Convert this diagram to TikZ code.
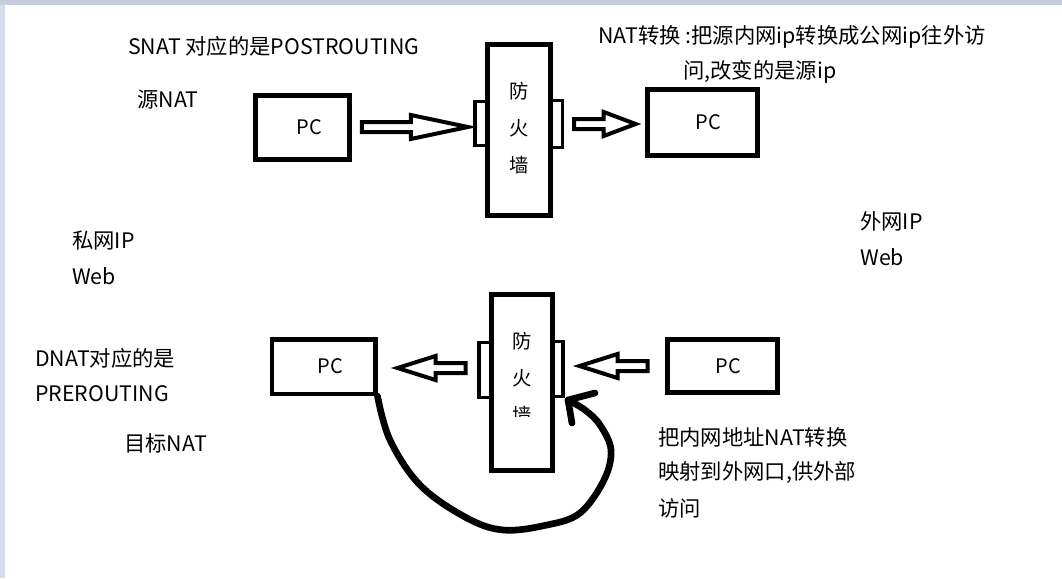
\documentclass[tikz,border=0pt]{standalone}
\usepackage{fontspec}
\setmainfont{Noto Sans CJK SC}
\usetikzlibrary{calc}

\definecolor{edgetop}{RGB}{197,206,223}
\definecolor{edgeleft}{RGB}{214,222,236}

% hollow block arrow: start, tip, head length (negative = pointing left)
\newcommand{\fatarrow}[3]{%
  \path (#1 |- #2) coordinate (fbase);
  \draw[fatarrow] ($(fbase)+(0,-5)$) -- ($(#2)+({-(#3)},-5)$) -- ($(#2)+({-(#3)},-12)$)
    -- (#2) -- ($(#2)+({-(#3)},12)$) -- ($(#2)+({-(#3)},5)$) -- ($(fbase)+(0,5)$) -- cycle;}

\begin{document}
\begin{tikzpicture}
  [x=0.75pt, y=-0.75pt,
   pcbox/.style={draw, line width=3.5pt, inner sep=0pt, font=\fontsize{15}{17}\selectfont},
   wall/.style={draw, line width=3.5pt, inner sep=0pt},
   tab/.style={line width=2.6pt, line join=miter},
   glyphs/.style={align=center, inner sep=0pt, font=\fontsize{14.5}{27.75}\selectfont},
   note/.style={anchor=west, inner sep=0pt, font=\fontsize{16}{18}\selectfont},
   fatarrow/.style={draw, line width=3pt, line join=miter, fill=white},
   scrawl/.style={line width=5pt, line cap=round, line join=round}]

  \useasboundingbox (0,0) rectangle (1062,578);
  \fill[edgetop] (0,0) rectangle (1062,5);
  \fill[edgeleft] (0,5) rectangle (5,578);

  % SNAT
  \node[pcbox, minimum width=70.5pt, minimum height=48pt] (pc1) at (302.5,127.5) {\hspace*{10pt}PC};
  \node[wall, minimum width=47pt, minimum height=128pt] (fw1) at (519,130) {};
  \node[glyphs] (w1) at ($(fw1)+(0,-2)$) {防\\火\\墙};
  \node[pcbox, minimum width=82.5pt, minimum height=49.5pt] (pc2) at (702.5,122.5) {\hspace*{9pt}PC};

  % DNAT
  \node[pcbox, minimum width=77.5pt, minimum height=41pt] (pc3) at (323.5,366.5) {\hspace*{10pt}PC};
  \node[wall, minimum width=46pt, minimum height=132pt] (fw2) at (522,382.5) {};
  \begin{scope}
    \clip (fw2.north west) rectangle ($(fw2.center)+(30,34)$);
    \node[glyphs] (w2) at ($(fw2)+(0,-4.5)$) {防\\火\\墙};
  \end{scope}
  \node[pcbox, minimum width=82.5pt, minimum height=40pt] (pc4) at (722.5,366) {\hspace*{9pt}PC};

  % tabs on the walls
  \draw[tab] ($(fw1.west)+(0,-28.5)$) -| ($(fw1.west)+(-10.5,15.5)$) -- ($(fw1.west)+(0,15.5)$);
  \draw[tab] ($(fw1.east)+(0,-29.5)$) -| ($(fw1.east)+(10,17.5)$) -- ($(fw1.east)+(0,17.5)$);
  \draw[tab] ($(fw2.west)+(0,-40)$) -| ($(fw2.west)+(-10,15)$) -- ($(fw2.west)+(0,15)$);
  \draw[tab] ($(fw2.east)+(0,-41)$) -| ($(fw2.east)+(8,14)$) -- ($(fw2.east)+(0,14)$);

  \coordinate (a1s) at ($(pc1.east)+(10,0)$);
  \coordinate (a1t) at ($(fw1.west)+(-17.5,-3)$);
  \coordinate (a2s) at ($(fw1.east)+(21.5,-6)$);
  \coordinate (a2t) at ($(pc2.west)+(-9.5,1.5)$);
  \coordinate (a3s) at ($(fw2.west)+(-23.5,-14.5)$);
  \coordinate (a3t) at ($(pc3.east)+(20,1.5)$);
  \coordinate (a4s) at ($(pc4.west)+(-17.5,0)$);
  \coordinate (a4t) at ($(fw2.east)+(24.5,-16.5)$);

  \foreach \s/\t/\h in {a1s/a1t/57, a2s/a2t/32, a3s/a3t/-38, a4s/a4t/-38}
    \fatarrow{\s}{\t}{\h};

  % hand drawn mapping back to the wall
  \coordinate (tip) at ($(fw2.east)+(13,17.5)$);
  \draw[scrawl] plot[smooth, tension=.6] coordinates {(pc3.south east) (390,440) (420,485)
    (465,517) (503,530) (547,525) (580,513) (604,480) (611,450) (600,425) (585,410) (tip)};
  \draw[scrawl] (595,393) -- (tip) -- (572,423);

  \node[note] (t1) at (128,46) {SNAT 对应的是POSTROUTING};
  \node[note] (t2) at (137,100) {源NAT};
  \node[note] (t3) at (598,37) {NAT转换 :把源内网ip转换成公网ip往外访};
  \node[note] (t4) at (683,72) {问,改变的是源ip};
  \node[note] (t5) at (72,241) {私网IP};
  \node[note] (t6) at (72,276) {Web};
  \node[note] (t7) at (860,221) {外网IP};
  \node[note] (t8) at (860,257) {Web};
  \node[note] (t9) at (35,358) {DNAT对应的是};
  \node[note] (t10) at (35,394) {PREROUTING};
  \node[note] (t11) at (124,443) {目标NAT};
  \node[note] (t12) at (658,437) {把内网地址NAT转换};
  \node[note] (t13) at (658,473) {映射到外网口,供外部};
  \node[note] (t14) at (658,508) {访问};
\end{tikzpicture}
\end{document}
